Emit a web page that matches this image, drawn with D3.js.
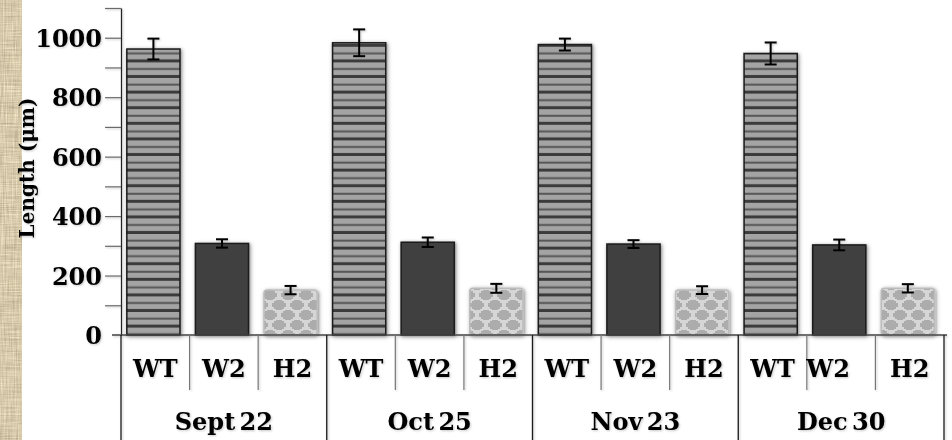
<!DOCTYPE html>
<html>
<head>
<meta charset="utf-8">
<script src="https://cdn.jsdelivr.net/npm/d3@7/dist/d3.min.js"></script>
<style>
  html, body { margin: 0; padding: 0; background: #fff; }
  svg { display: block; }
  text { font-family: "DejaVu Serif", "Liberation Serif", serif; font-weight: bold; fill: #000; }
</style>
</head>
<body>
<svg id="chart" width="952" height="440"></svg>
<script>
// Sampling dates and lines
const dates = ["Sept 22", "Oct 25", "Nov 23", "Dec 30"];
const lines = ["WT", "W2", "H2"];

// Mean length (µm) and error per date, one array per line
const wtLength = [962, 983, 977, 947];
const wtError  = [35, 45, 20, 37];
const w2Length = [308, 312, 306, 303];
const w2Error  = [14, 16, 13, 18];
const h2Length = [151, 157, 151, 157];
const h2Error  = [14, 15, 13, 14];

// Axis ticks
const yMinorTicks = [0, 100, 200, 300, 400, 500, 600, 700, 800, 900, 1000, 1100];
const yTickLabels = [0, 200, 400, 600, 800, 1000];

const lengths = { WT: wtLength, W2: w2Length, H2: h2Length };
const errors  = { WT: wtError,  W2: w2Error,  H2: h2Error };

const rows = [];
dates.forEach((date, i) => {
  lines.forEach(line => {
    rows.push({ key: date + "|" + line, date, line, value: lengths[line][i], err: errors[line][i] });
  });
});

const svg = d3.select("#chart");
const defs = svg.append("defs");

// Linen-like texture for the left edge strip
const linen = defs.append("filter").attr("id", "linen").attr("x", 0).attr("y", 0).attr("width", 1).attr("height", 1)
  .attr("color-interpolation-filters", "sRGB");
linen.append("feTurbulence").attr("type", "fractalNoise").attr("baseFrequency", "0.9 0.04")
  .attr("numOctaves", 2).attr("seed", 4).attr("result", "v");
linen.append("feTurbulence").attr("type", "fractalNoise").attr("baseFrequency", "0.04 0.9")
  .attr("numOctaves", 2).attr("seed", 9).attr("result", "h");
linen.append("feComposite").attr("in", "v").attr("in2", "h").attr("operator", "arithmetic")
  .attr("k1", 0).attr("k2", 0.5).attr("k3", 0.5).attr("k4", 0).attr("result", "mix");
linen.append("feColorMatrix").attr("in", "mix").attr("type", "matrix")
  .attr("values", "0.6 0 0 0 0.55  0.6 0 0 0 0.5  0.6 0 0 0 0.38  0 0 0 0 1");

// Soft shadows
const soft = defs.append("filter").attr("id", "soft").attr("x", "-10%").attr("y", "-10%").attr("width", "120%").attr("height", "120%");
soft.append("feDropShadow").attr("dx", 1).attr("dy", 1).attr("stdDeviation", 1.2)
  .attr("flood-color", "#000").attr("flood-opacity", 0.22);
const barShadow = defs.append("filter").attr("id", "barShadow").attr("x", "-20%").attr("y", "-10%").attr("width", "140%").attr("height", "120%");
barShadow.append("feDropShadow").attr("dx", 1).attr("dy", 1).attr("stdDeviation", 2)
  .attr("flood-color", "#000").attr("flood-opacity", 0.3);

// WT: horizontal stripes
const stripe = defs.append("pattern").attr("id", "wtStripe").attr("patternUnits", "userSpaceOnUse")
  .attr("width", 10).attr("height", 15.6);
stripe.append("rect").attr("width", 10).attr("height", 15.6).attr("fill", "#a4a4a4");
stripe.append("rect").attr("y", 5.6).attr("width", 10).attr("height", 2).attr("fill", "#565656");
stripe.append("rect").attr("y", 12.6).attr("width", 10).attr("height", 3).attr("fill", "#3b3b3b");

// H2: light gray with darker stepped blobs in offset rows
const blobs = defs.append("pattern").attr("id", "h2Blob").attr("patternUnits", "userSpaceOnUse")
  .attr("width", 18).attr("height", 20);
blobs.append("rect").attr("width", 18).attr("height", 20).attr("fill", "#d6d6d6");
const blobSteps = [[7, 2], [5, 4], [3, 5]];
[[9, 5], [0, 15], [18, 15], [0, -5], [18, -5], [9, 25]].forEach(([cx, cy]) => {
  blobSteps.forEach(([hw, hh]) => {
    blobs.append("rect").attr("x", cx - hw).attr("y", cy - hh)
      .attr("width", hw * 2).attr("height", hh * 2).attr("fill", "#acacac");
  });
});

const fills   = { WT: "url(#wtStripe)", W2: "#404040", H2: "url(#h2Blob)" };
const strokes = { WT: "#1a1a1a", W2: "#1a1a1a", H2: "#bcbcbc" };

// Left edge strip
svg.append("rect").attr("x", 0).attr("y", 0).attr("width", 22).attr("height", 440)
  .attr("fill", "#d3c4a5");
svg.append("rect").attr("x", 0).attr("y", 0).attr("width", 22).attr("height", 440)
  .attr("filter", "url(#linen)").attr("opacity", 0.75);

// Scales
const y = d3.scaleLinear().domain([0, 1100]).range([335, 8]);
const x = d3.scaleBand().domain(rows.map(d => d.key)).range([121, 944]).padding(0);
const bw = x.bandwidth();
const barW = bw * 0.775;
const barInset = bw * 0.085;

const g = svg.append("g").attr("filter", "url(#soft)");

// Bars
g.append("g").selectAll("rect").data(rows).join("rect")
  .attr("x", d => x(d.key) + barInset)
  .attr("y", d => y(d.value))
  .attr("width", barW)
  .attr("height", d => y(0) - y(d.value))
  .attr("rx", d => d.line === "H2" ? 3 : 0)
  .attr("fill", d => fills[d.line])
  .attr("stroke", d => strokes[d.line])
  .attr("stroke-width", 1.5)
  .attr("filter", "url(#barShadow)");

// Error bars
const eb = g.append("g").attr("stroke", "#000").attr("stroke-width", 2);
rows.forEach(d => {
  const cx = x(d.key) + barInset + barW / 2;
  eb.append("line").attr("x1", cx).attr("x2", cx).attr("y1", y(d.value + d.err)).attr("y2", y(d.value - d.err));
  eb.append("line").attr("x1", cx - 6).attr("x2", cx + 6).attr("y1", y(d.value + d.err)).attr("y2", y(d.value + d.err));
  eb.append("line").attr("x1", cx - 6).attr("x2", cx + 6).attr("y1", y(d.value - d.err)).attr("y2", y(d.value - d.err));
});

// Y axis
const yAxis = g.append("g").attr("transform", "translate(121,0)")
  .call(d3.axisLeft(y).tickValues(yMinorTicks).tickSize(16).tickSizeOuter(0)
    .tickFormat(v => yTickLabels.includes(v) ? v : ""));
yAxis.select(".domain").attr("stroke", "#222").attr("stroke-width", 1.2);
yAxis.selectAll(".tick line").attr("stroke", "#6a6a6a").attr("stroke-width", 1.2);
yAxis.selectAll(".tick").filter(v => v === 0).select("line").remove();
yAxis.selectAll(".tick text")
  .attr("x", -19).attr("dy", "0.36em")
  .style("font-size", "24px").style("font-family", "DejaVu Serif").style("font-weight", "bold")
  .attr("fill", "#000");

// Axis title
g.append("text")
  .attr("transform", "translate(34,168) rotate(-90)")
  .attr("text-anchor", "middle")
  .style("font-size", "20px")
  .text("Length (μm)");

// Category baseline
g.append("line").attr("x1", 112).attr("x2", 947).attr("y1", y(0)).attr("y2", y(0))
  .attr("stroke", "#444").attr("stroke-width", 1.3);

// Inner separators between lines within a date
const inner = rows.filter((d, i) => i % 3 !== 0);
g.append("g").selectAll("line").data(inner).join("line")
  .attr("x1", d => x(d.key)).attr("x2", d => x(d.key))
  .attr("y1", y(0)).attr("y2", 390)
  .attr("stroke", "#777").attr("stroke-width", 1.2);

// Outer separators between dates
const outer = dates.map(dt => x(dt + "|" + lines[0])).concat([944]);
g.append("g").selectAll("line").data(outer).join("line")
  .attr("x1", d => d).attr("x2", d => d)
  .attr("y1", y(0)).attr("y2", 440)
  .attr("stroke", "#1a1a1a").attr("stroke-width", 1.3);

// Line labels
g.append("g").selectAll("text").data(rows).join("text")
  .attr("x", d => x(d.key) + bw / 2 + (d.date === "Dec 30" && d.line === "W2" ? -13 : 0))
  .attr("y", 377)
  .attr("text-anchor", "middle")
  .style("font-size", "24px")
  .text(d => d.line);

// Date labels
g.append("g").selectAll("text").data(dates).join("text")
  .attr("x", d => x(d + "|" + lines[1]) + bw / 2)
  .attr("y", 430)
  .attr("text-anchor", "middle")
  .style("font-size", "24px")
  .style("word-spacing", "-4px")
  .text(d => d);
</script>
</body>
</html>
